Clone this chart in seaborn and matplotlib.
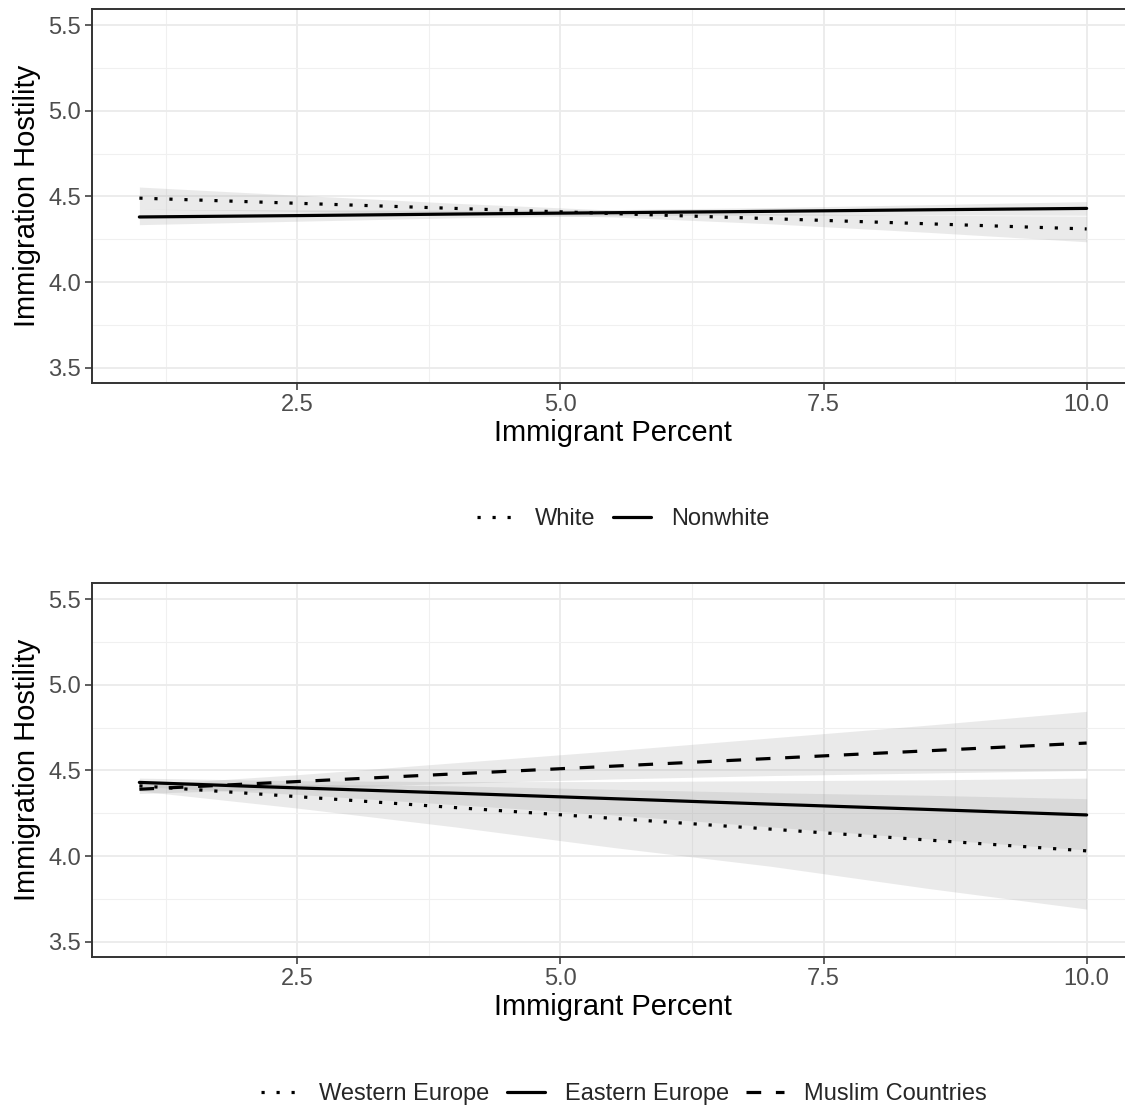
import numpy as np
import pandas as pd
import matplotlib
matplotlib.use("Agg")
import matplotlib.pyplot as plt
import seaborn as sns
from matplotlib.ticker import MultipleLocator, FormatStrFormatter
from matplotlib.lines import Line2D

# ---------------- data ----------------
x_grid = [1.0, 2.5, 4.0, 5.5, 7.0, 8.5, 10.0]

# top panel: respondent race
white_fit = [4.49, 4.46, 4.43, 4.40, 4.37, 4.34, 4.31]
white_lo = [4.425, 4.413, 4.40, 4.38, 4.34, 4.29, 4.235]
white_hi = [4.555, 4.507, 4.46, 4.42, 4.40, 4.39, 4.385]

nonwhite_fit = [4.38, 4.388, 4.397, 4.405, 4.413, 4.422, 4.43]
nonwhite_lo = [4.335, 4.355, 4.375, 4.387, 4.391, 4.392, 4.39]
nonwhite_hi = [4.425, 4.421, 4.419, 4.423, 4.435, 4.452, 4.47]

# bottom panel: immigrant origin
western_fit = [4.41, 4.347, 4.283, 4.22, 4.157, 4.093, 4.03]
western_lo = [4.38, 4.28, 4.17, 4.05, 3.94, 3.81, 3.69]
western_hi = [4.44, 4.42, 4.41, 4.39, 4.37, 4.355, 4.335]

eastern_fit = [4.43, 4.398, 4.367, 4.335, 4.303, 4.272, 4.24]
eastern_lo = [4.405, 4.36, 4.30, 4.24, 4.17, 4.10, 4.035]
eastern_hi = [4.455, 4.44, 4.435, 4.435, 4.44, 4.445, 4.455]

muslim_fit = [4.39, 4.435, 4.48, 4.525, 4.57, 4.615, 4.66]
muslim_lo = [4.365, 4.395, 4.425, 4.45, 4.47, 4.485, 4.50]
muslim_hi = [4.415, 4.475, 4.545, 4.615, 4.69, 4.765, 4.845]

top_labels = ["White", "Nonwhite"]
bottom_labels = ["Western Europe", "Eastern Europe", "Muslim Countries"]
x_label = "Immigrant Percent"
y_label = "Immigration Hostility"

# ---------------- style ----------------
sns.set_theme(style="white")
plt.rcParams['font.family'] = ['Liberation Sans', 'DejaVu Sans']

LW = 2.3
DOTTED = (0, (1.0, 3.7))
SOLID = '-'
DASHED = (0, (4.6, 4.6))
BAND = '#999999'

fig = plt.figure(figsize=(11.25, 11.08), dpi=100)
W, H = 1125.0, 1108.0

def make_ax(top_px, bot_px):
    left = 92
    right = 1134
    return fig.add_axes([left / W, 1 - bot_px / H, (right - left) / W, (bot_px - top_px) / H])

ax1 = make_ax(9, 383)
ax2 = make_ax(583, 957)

def style_ax(ax):
    ax.set_xlim(0.55, 10.45)
    ax.set_ylim(3.41, 5.595)
    ax.xaxis.set_major_locator(MultipleLocator(2.5))
    ax.xaxis.set_minor_locator(MultipleLocator(1.25))
    ax.yaxis.set_major_locator(MultipleLocator(0.5))
    ax.yaxis.set_minor_locator(MultipleLocator(0.25))
    ax.xaxis.set_major_formatter(FormatStrFormatter('%.1f'))
    ax.yaxis.set_major_formatter(FormatStrFormatter('%.1f'))
    ax.grid(True, which='major', color='#EBEBEB', lw=1.3)
    ax.grid(True, which='minor', color='#F0F0F0', lw=0.8)
    ax.set_axisbelow(True)
    ax.tick_params(axis='both', which='major', length=5, width=1.1, color='#333333',
                   labelcolor='#4D4D4D', labelsize=17, pad=3, bottom=True, left=True)
    ax.tick_params(axis='both', which='minor', length=0)
    for s in ax.spines.values():
        s.set_color('#333333')
        s.set_linewidth(1.4)
    ax.set_xlabel(x_label, fontsize=21, color='black', labelpad=2)
    ax.set_ylabel(y_label, fontsize=21, color='black', labelpad=5)
    ax.set_facecolor('white')

def draw(ax, fit, lo, hi, ls):
    ax.fill_between(x_grid, lo, hi, color=BAND, alpha=0.2, lw=0, zorder=2)
    df = pd.DataFrame({"x": x_grid, "y": fit})
    sns.lineplot(data=df, x="x", y="y", ax=ax, color='black', lw=LW,
                 linestyle=ls, dash_capstyle='butt', errorbar=None, zorder=3)

draw(ax1, white_fit, white_lo, white_hi, DOTTED)
draw(ax1, nonwhite_fit, nonwhite_lo, nonwhite_hi, SOLID)

draw(ax2, western_fit, western_lo, western_hi, DOTTED)
draw(ax2, eastern_fit, eastern_lo, eastern_hi, SOLID)
draw(ax2, muslim_fit, muslim_lo, muslim_hi, DASHED)

style_ax(ax1)
style_ax(ax2)

def handle(ls):
    return Line2D([0], [0], color='black', lw=LW, linestyle=ls, dash_capstyle='butt')

leg_kw = dict(frameon=False, fontsize=17, handlelength=1.6, handletextpad=0.85,
              columnspacing=0.75, loc='center', borderpad=0, borderaxespad=0)
fig.legend([handle(DOTTED), handle(SOLID)], top_labels, ncol=2,
           bbox_to_anchor=(623 / W, 1 - 519 / H), **leg_kw)
fig.legend([handle(DOTTED), handle(SOLID), handle(DASHED)], bottom_labels, ncol=3,
           bbox_to_anchor=(624 / W, 1 - 1094 / H), **leg_kw)

fig.savefig("out.png", dpi=100)
